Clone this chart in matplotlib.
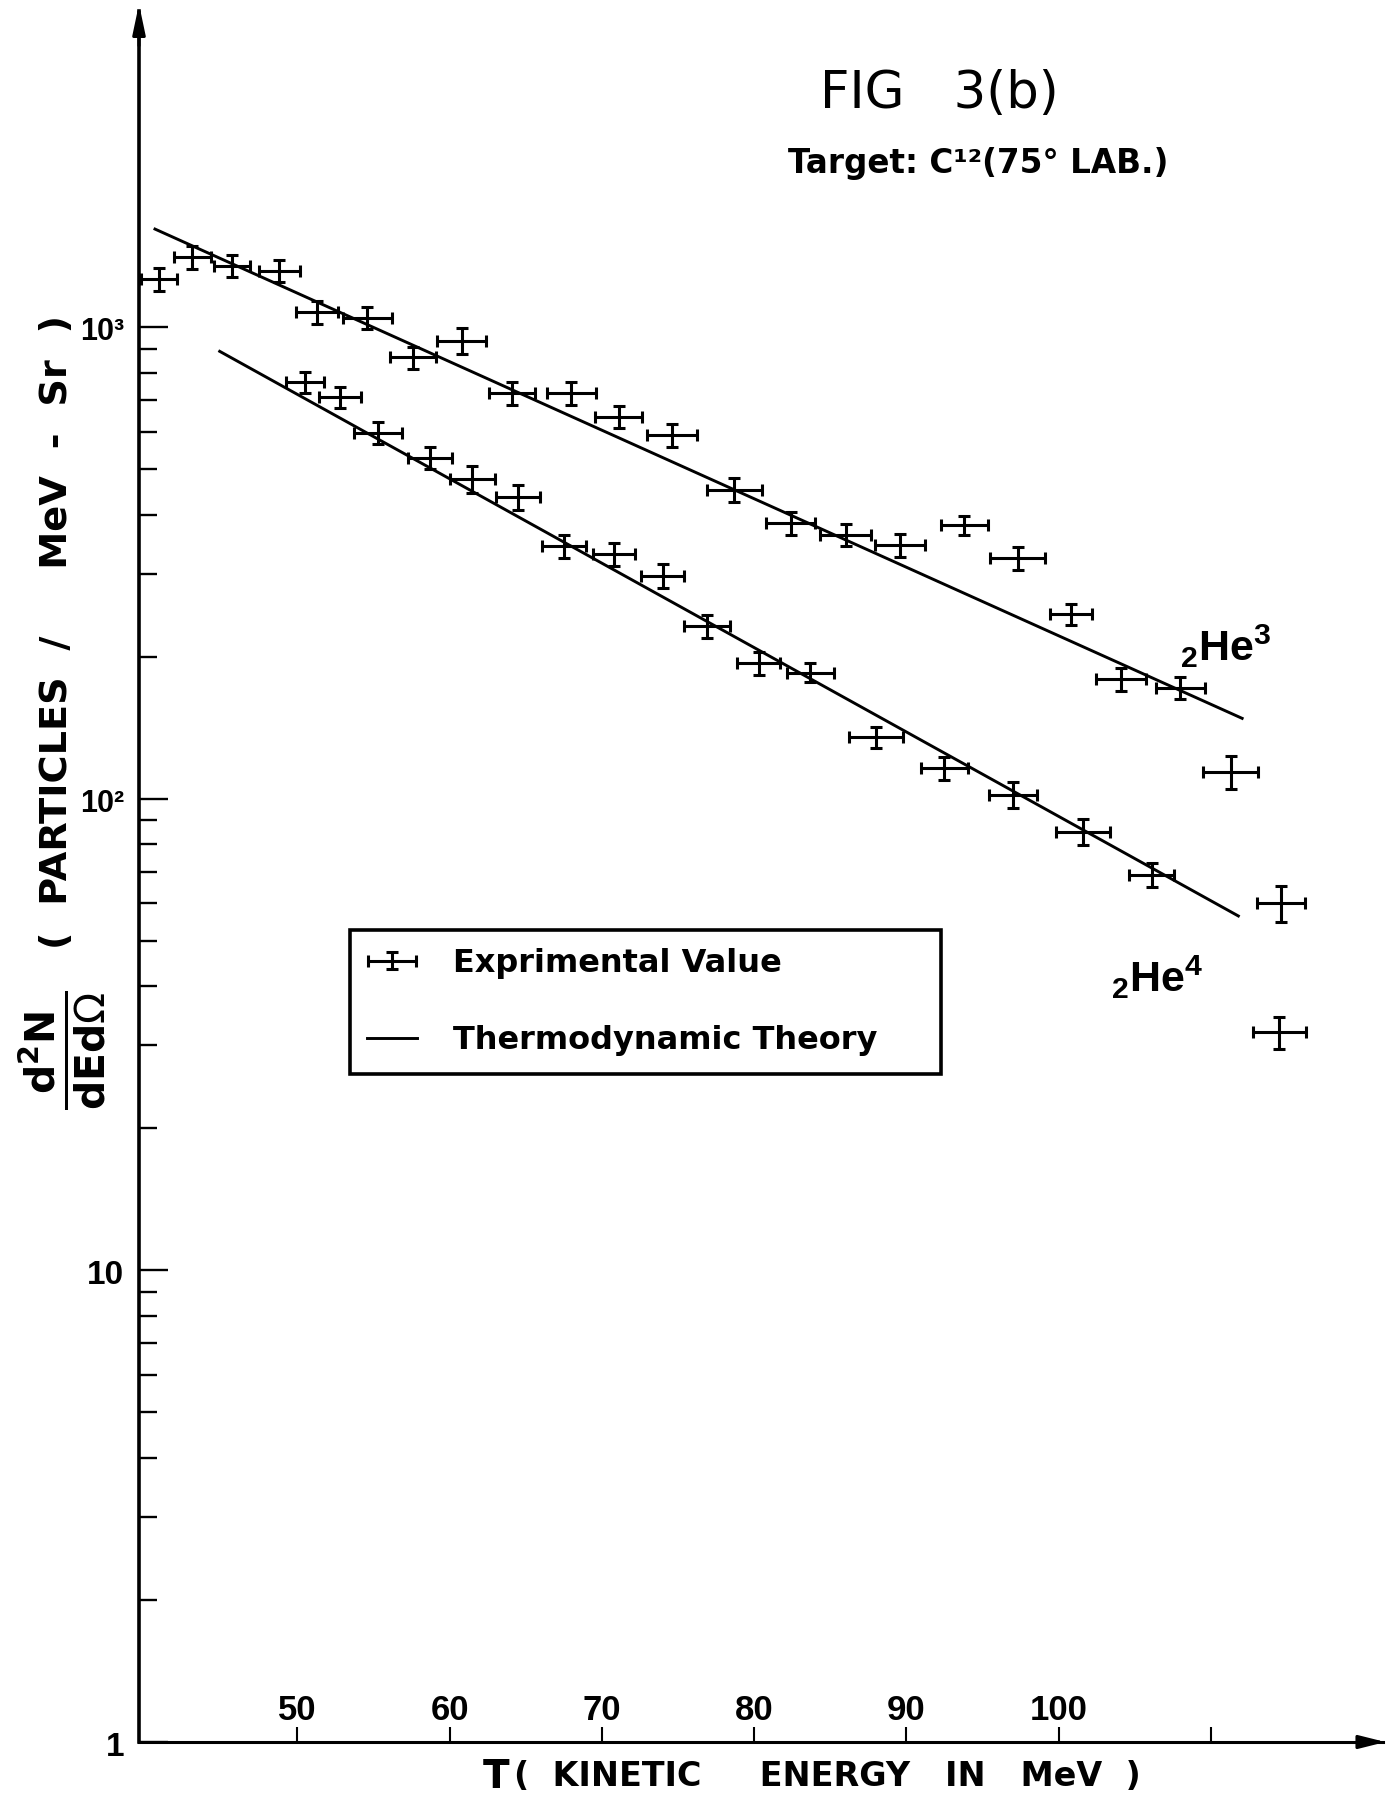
import matplotlib
matplotlib.use("Agg")
import matplotlib.pyplot as plt
from matplotlib.container import ErrorbarContainer
from matplotlib.legend_handler import HandlerErrorbar

# ---------------- data ----------------
he3_T = [40.9, 43.1, 45.7, 48.8, 51.3, 54.6, 57.6, 60.8, 64.1, 68.0, 71.1, 74.6,
         78.7, 82.4, 86.0, 89.6, 93.8, 97.3, 100.8, 104.1, 108.0, 111.3, 114.6]
he3_N = [1264, 1407, 1349, 1316, 1076, 1045, 862, 935, 725, 725, 645, 591,
         452, 384, 363, 345, 380, 324, 246, 179, 172, 114, 60]
he3_dT = [1.2, 1.2, 1.2, 1.35, 1.4, 1.6, 1.5, 1.6, 1.5, 1.6, 1.55, 1.65,
          1.8, 1.6, 1.65, 1.65, 1.55, 1.8, 1.4, 1.65, 1.6, 1.8, 1.6]
he3_dN = [70, 77, 74, 72, 59, 57, 47, 60, 40, 40, 35, 33,
          27, 21, 20, 19, 17, 18, 13, 10, 9.5, 9, 5.2]

he4_T = [50.5, 52.8, 55.3, 58.7, 61.5, 64.5, 67.5, 70.8, 74.0, 76.9, 80.3, 83.7,
         88.0, 92.5, 97.0, 101.6, 106.1, 114.5]
he4_N = [763, 711, 596, 528, 476, 436, 343, 330, 297, 232, 194, 185,
         135, 116, 102, 85, 69, 32]
he4_dT = [1.25, 1.4, 1.6, 1.45, 1.5, 1.45, 1.45, 1.4, 1.4, 1.5, 1.4, 1.55,
          1.75, 1.55, 1.55, 1.75, 1.5, 1.75]
he4_dN = [40, 36, 32, 28, 31, 26, 20, 18, 17, 13, 11, 8.5,
          7.2, 6.5, 6.6, 5.4, 4.0, 2.5]

theory_he3_T = [40.65, 112.05]
theory_he3_N = [1613, 148]
theory_he4_T = [44.9, 111.8]
theory_he4_N = [888, 56.4]

xtick_vals = [50, 60, 70, 80, 90, 100, 110]
xtick_text = ["50", "60", "70", "80", "90", "100", ""]
ytick_vals = [1, 10, 100, 1000]
ytick_text = ["1", "10", "10²", "10³"]
legend_labels = ["Exprimental Value", "Thermodynamic Theory"]

# ---------------- figure ----------------
plt.rcParams["font.family"] = ["DejaVu Sans"]
plt.rcParams["mathtext.fontset"] = "dejavusans"
plt.rcParams["mathtext.rm"] = "Liberation Sans"
plt.rcParams["mathtext.it"] = "Liberation Sans:italic"
plt.rcParams["mathtext.bf"] = "Liberation Sans:bold"

W, H = 1390, 1796
fig = plt.figure(figsize=(W / 100, H / 100), dpi=100)
L, R, TOP, BOT = 139, 1383, 11, 1742
ax = fig.add_axes([L / W, 1 - BOT / H, (R - L) / W, (BOT - TOP) / H])


def fx(x):
    return x / W


def fy(y):
    return 1 - y / H


ax.set_yscale("log")
ax.set_xlim(39.6, 121.3)
ax.set_ylim(1, 4677)

for s in ("top", "right"):
    ax.spines[s].set_visible(False)
ax.spines["left"].set_linewidth(2.6)
ax.spines["bottom"].set_linewidth(2.2)

# ticks
ax.set_xticks(xtick_vals)
ax.set_xticklabels([])
ax.tick_params(axis="x", which="major", direction="in", length=11, width=1.5,
               labelbottom=False)
ax.set_yticks(ytick_vals)
ax.set_yticklabels([])
minor = [k * 10 ** d for d in range(0, 3) for k in range(2, 10)]
ax.set_yticks(minor, minor=True)
ax.set_yticklabels([], minor=True)
ax.tick_params(axis="y", which="major", direction="in", length=21, width=1.7,
               labelleft=False)
ax.tick_params(axis="y", which="minor", direction="in", length=13, width=1.7,
               labelleft=False)

for v, t in zip(xtick_vals, xtick_text):
    ax.annotate(t, xy=(v, 0), xycoords=("data", "axes fraction"),
                xytext=(0, 22), textcoords="offset pixels",
                ha="center", va="baseline", family="Liberation Sans",
                weight="bold", fontsize=25)
for v, t in zip(ytick_vals, ytick_text):
    ax.annotate(t, xy=(0, v), xycoords=("axes fraction", "data"),
                xytext=(-15, -5), textcoords="offset pixels",
                ha="right", va="center", family="Liberation Sans",
                weight="bold", fontsize=24 if len(t) < 3 else 22)

# axis arrows
ax.annotate("", xy=(0, 1.004), xytext=(0, 0.98), xycoords="axes fraction",
            arrowprops=dict(arrowstyle="-|>,head_length=1.8,head_width=0.38",
                            color="black", lw=2.2, shrinkA=0, shrinkB=0),
            annotation_clip=False)
ax.annotate("", xy=(1.002, 0), xytext=(0.98, 0), xycoords="axes fraction",
            arrowprops=dict(arrowstyle="-|>,head_length=1.6,head_width=0.4",
                            color="black", lw=2.2, shrinkA=0, shrinkB=0),
            annotation_clip=False)

# data
eb_kw = dict(fmt="none", ecolor="black", elinewidth=2.2, capsize=4,
             capthick=2.2)
eb = ax.errorbar(he3_T, he3_N, xerr=he3_dT, yerr=he3_dN, **eb_kw)
ax.errorbar(he4_T, he4_N, xerr=he4_dT, yerr=he4_dN, **eb_kw)
ln, = ax.plot(theory_he3_T, theory_he3_N, color="black", lw=2.1)
ax.plot(theory_he4_T, theory_he4_N, color="black", lw=2.1)

# species labels
ax.text(107.96, 195.4, r"$_{\mathbf{2}}\mathbf{He}^{\mathbf{3}}$",
        math_fontfamily="custom", fontsize=31, ha="left", va="baseline")
ax.text(103.43, 38.9, r"$_{\mathbf{2}}\mathbf{He}^{\mathbf{4}}$",
        math_fontfamily="custom", fontsize=31, ha="left", va="baseline")

# legend
leg = ax.legend([eb, ln], legend_labels, loc="upper left",
                bbox_to_anchor=(0.1693, 0.469, 0.4754, 0), mode="expand",
                borderaxespad=0,
                frameon=True, fancybox=False, edgecolor="black", framealpha=1,
                prop=dict(family="DejaVu Sans", weight="bold", size=23),
                handlelength=1.55, handletextpad=1.15, borderpad=0.55,
                labelspacing=1.45,
                handler_map={ErrorbarContainer: HandlerErrorbar(xerr_size=0.75,
                                                                yerr_size=0.28)})
leg.get_frame().set_linewidth(2.6)

# titles
fig.text(fx(939), fy(94), "FIG   3(b)", ha="center", va="center",
         fontsize=37, family="DejaVu Sans")
fig.text(fx(978), fy(163), "Target: C¹²(75° LAB.)", ha="center", va="center",
         fontsize=23.5, family="DejaVu Sans", weight="bold")

# axis labels
fig.text(fx(496), fy(1777), "T", ha="center", va="center", fontsize=28,
         weight="bold")
fig.text(fx(827), fy(1777), "(  KINETIC     ENERGY   IN   MeV  )",
         ha="center", va="center", fontsize=24, weight="bold")
fig.text(fx(57), fy(632), "(  PARTICLES  /     MeV  -  Sr  )", rotation=90,
         ha="center", va="center", fontsize=27.5, weight="bold")
fig.text(fx(62), fy(1050), r"$\frac{\mathbf{d^2N}}{\mathbf{dEd}\Omega}$",
         rotation=90, ha="center", va="center", fontsize=42)

fig.savefig("out.png", dpi=100, facecolor="white")
